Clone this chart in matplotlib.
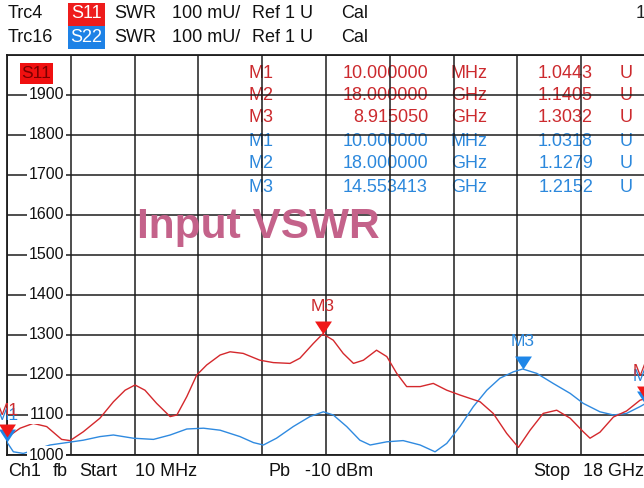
import numpy as np
import matplotlib
matplotlib.use("Agg")
import matplotlib.pyplot as plt
from matplotlib.patches import Rectangle
from matplotlib.path import Path
import matplotlib.transforms as mtrans

plt.rcParams['font.family'] = ['Liberation Sans', 'DejaVu Sans']

# --- data (frequency in GHz, SWR in mU) ---
s11_f = [0.01, 0.38, 0.75, 1.13, 1.55, 1.79, 2.16, 2.63, 3.01, 3.34, 3.62, 3.90,
         4.23, 4.61, 4.80, 5.08, 5.36, 5.64, 6.02, 6.30, 6.67, 7.14, 7.52, 7.99,
         8.27, 8.65, 8.915, 9.21, 9.49, 9.78, 10.06, 10.43, 10.72, 11.00, 11.28,
         11.66, 12.03, 12.41, 12.78, 13.35, 13.72, 14.10, 14.43, 14.76, 15.13,
         15.51, 15.89, 16.26, 16.45, 16.73, 17.11, 17.48, 17.86, 18.0]
s11_v = [1044, 1067, 1079, 1071, 1039, 1036, 1058, 1092, 1133, 1162, 1175, 1162,
         1129, 1096, 1100, 1146, 1200, 1225, 1250, 1258, 1254, 1237, 1231, 1229,
         1242, 1279, 1303, 1287, 1254, 1229, 1237, 1262, 1246, 1204, 1171,
         1171, 1179, 1162, 1150, 1133, 1104, 1054, 1019, 1062, 1104,
         1112, 1092, 1058, 1042, 1057, 1095, 1110, 1137, 1140.5]

s22_f = [0.01, 0.19, 0.47, 0.85, 1.22, 1.69, 2.16, 2.63, 3.01, 3.57, 4.14, 4.61,
         5.08, 5.55, 6.02, 6.58, 6.96, 7.24, 7.61, 8.08, 8.55, 8.93, 9.21, 9.59,
         9.96, 10.25, 10.72, 11.18, 11.66, 12.08, 12.41, 12.78, 13.16, 13.54,
         13.91, 14.29, 14.553, 14.95, 15.41, 15.89, 16.26, 16.73, 17.11, 17.48,
         17.86, 18.0]
s22_v = [1032, 1008, 1004, 1014, 1025, 1031, 1037, 1046, 1050, 1042, 1039, 1050,
         1065, 1067, 1062, 1046, 1031, 1025, 1042, 1071, 1096, 1108, 1100, 1071,
         1037, 1025, 1033, 1036, 1025, 1008, 1029, 1071, 1121, 1162,
         1192, 1208, 1215, 1204, 1179, 1154, 1129, 1108, 1100, 1104,
         1121, 1128]

# markers: (name, GHz, mU)
s11_mk = [("M1", 0.01, 1044.3), ("M2", 18.0, 1140.5), ("M3", 8.91505, 1303.2)]
s22_mk = [("M1", 0.01, 1031.8), ("M2", 18.0, 1127.9), ("M3", 14.553413, 1215.2)]

s11_table = [("M1", "10.000000", "MHz", "1.0443"),
             ("M2", "18.000000", "GHz", "1.1405"),
             ("M3", "8.915050", "GHz", "1.3032")]
s22_table = [("M1", "10.000000", "MHz", "1.0318"),
             ("M2", "18.000000", "GHz", "1.1279"),
             ("M3", "14.553413", "GHz", "1.2152")]

yticks = list(range(1000, 2001, 100))

RED = '#D4282C'
BLUE = '#2F8AE0'
MK_RED = '#F01818'
MK_BLUE = '#1E86E8'
TXT_RED = '#CC2A2E'
TXT_BLUE = '#2C88DC'

W, H = 644, 488
fig = plt.figure(figsize=(W / 100, H / 100), dpi=100)
fig.patch.set_facecolor('white')


def fx(x):
    return x / W


def fy(y):
    return 1 - y / H


ax = fig.add_axes([fx(7), fy(455), 638 / W, 400 / H])
ax.set_xlim(0.01, 18.0)
ax.set_ylim(1000, 2000)
ax.set_xticks(np.linspace(0.01, 18.0, 11))
ax.set_yticks(yticks)
ax.tick_params(length=0, labelbottom=False, labelleft=False)
ax.set_axisbelow(False)
ax.grid(True, color='#1c1c1c', lw=1.1)
for sp in ax.spines.values():
    sp.set_color('#1c1c1c')
    sp.set_linewidth(1.3)

ax.plot(s22_f, s22_v, color=BLUE, lw=1.0, zorder=3)
ax.plot(s11_f, s11_v, color=RED, lw=1.0, zorder=3)

# y labels inside plot with white background
bt = mtrans.blended_transform_factory(ax.transAxes, ax.transData)
for v in yticks[:-1]:
    ax.text(57 / 638, v, str(v), transform=bt, ha='right', va='center',
            fontsize=11.5, color='#111111', zorder=6, clip_on=False,
            bbox=dict(boxstyle='square,pad=0.12', fc='white', ec='none'))

# marker triangles, tip at the data point
tri_down = Path([(0, 0), (-0.65, 1), (0.65, 1), (0, 0)],
                [Path.MOVETO, Path.LINETO, Path.LINETO, Path.CLOSEPOLY])
tri_up = Path([(0, 0), (-0.65, -1), (0.65, -1), (0, 0)],
              [Path.MOVETO, Path.LINETO, Path.LINETO, Path.CLOSEPOLY])

for mks, col, tcol in [(s22_mk, MK_BLUE, TXT_BLUE), (s11_mk, MK_RED, TXT_RED)]:
    for name, f, v in mks:
        ax.plot(f, v, marker=tri_down, ms=18.7, color=col, mec='none',
                zorder=5, clip_on=False)
        ax.annotate(name, xy=(f, v), xytext=(0, 27), textcoords='offset pixels',
                    ha='center', va='center', fontsize=12.5, color=tcol,
                    zorder=5, annotation_clip=False)

# small indicator triangles at bottom right
for xa, col in [(0.967, MK_BLUE), (0.989, MK_RED)]:
    ax.plot(xa, 0, marker=tri_up, ms=14, color=col, mec='none',
            transform=ax.transAxes, zorder=5, clip_on=True)

# marker table (drawn under the grid like the instrument)
rows_y = [73, 96, 118, 141, 164, 187]
table = [(r, TXT_RED) for r in s11_table] + [(r, TXT_BLUE) for r in s22_table]
for (row, col), y in zip(table, rows_y):
    name, freq, unit, val = row
    kw = dict(transform=fig.transFigure, va='center', fontsize=13, color=col,
              zorder=1, clip_on=False)
    ax.text(fx(249), fy(y), name, ha='left', **kw)
    ax.text(fx(428), fy(y), freq, ha='right', **kw)
    ax.text(fx(451), fy(y), unit, ha='left', **kw)
    ax.text(fx(593), fy(y), val, ha='right', **kw)
    ax.text(fx(620), fy(y), "U", ha='left', **kw)

# trace tag in the plot
ax.add_patch(Rectangle((fx(20), fy(84)), 33 / W, 21 / H, transform=fig.transFigure,
                       fc='#F01010', ec='none', zorder=6, clip_on=False))
ax.text(fx(36.5), fy(74), "S11", transform=fig.transFigure, ha='center',
        va='center', fontsize=12.5, color='#7A0000', zorder=7)

# title text
fig.text(fx(258), fy(227), "Input VSWR", ha='center', va='center',
         fontsize=30.5, fontweight='bold', color='#C4628A')

# header
for y, trc, sp, bg in [(14, "Trc4", "S11", '#EE1C1C'), (37, "Trc16", "S22", '#1E82E6')]:
    fig.text(fx(8), fy(y), trc, ha='left', va='center', fontsize=13, color='#111111')
    fig.patches.append(Rectangle((fx(68), fy(y + 11.5)), 37 / W, 23 / H,
                                 transform=fig.transFigure, fc=bg, ec='none'))
    fig.text(fx(86.5), fy(y), sp, ha='center', va='center', fontsize=13, color='white')
    fig.text(fx(114), fy(y), "SWR", ha='left', va='center', fontsize=13, color='#111111')
    fig.text(fx(172), fy(y), "100 mU/", ha='left', va='center', fontsize=13, color='#111111')
    fig.text(fx(252), fy(y), "Ref 1 U", ha='left', va='center', fontsize=13, color='#111111')
    fig.text(fx(341), fy(y), "Cal", ha='left', va='center', fontsize=13, color='#111111')
fig.text(fx(636), fy(14), "1", ha='left', va='center', fontsize=13, color='#222222')

# footer
for x, s in [(8, "Ch1"), (53, "fb"), (79, "Start"), (135, "10 MHz"),
             (268, "Pb"), (305, "-10 dBm"), (533, "Stop"), (583, "18 GHz")]:
    fig.text(fx(x), fy(472), s, ha='left', va='center', fontsize=13, color='#111111')

fig.savefig("out.png", dpi=100, facecolor='white')
